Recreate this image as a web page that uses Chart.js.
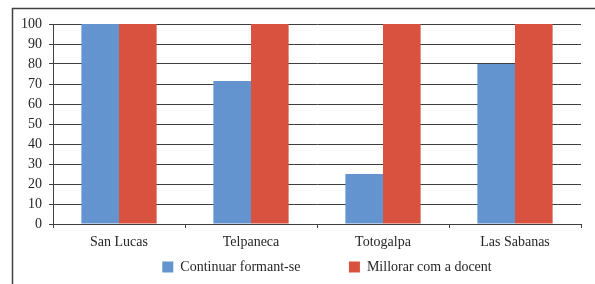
<!DOCTYPE html>
<html>
<head>
<meta charset="utf-8">
<script src="https://cdn.jsdelivr.net/npm/chart.js@4/dist/chart.umd.min.js"></script>
<style>
body { margin: 0; background: #fff; font-family: "Liberation Serif", serif; }
canvas { display: block; }
#warm { position: absolute; left: -999px; font: 14px "Liberation Serif"; }
</style>
</head>
<body>
<span id="warm">Continuar 0123456789</span>
<canvas id="chart" width="595" height="284"></canvas>
<script>
var municipalities = ["San Lucas", "Telpaneca", "Totogalpa", "Las Sabanas"];
var seriesNames = ["Continuar formant-se", "Millorar com a docent"];
var continueTraining = [100, 71.5, 25, 80];
var improveAsTeacher = [100, 100, 100, 100];
var yTicks = [0, 10, 20, 30, 40, 50, 60, 70, 80, 90, 100];

var textColor = "#262626";
var lineColor = "#404040";
var serif = { family: "Liberation Serif", size: 14 };

// the thin frame on the left and top of the figure
var framePlugin = {
    id: "frame",
    beforeDraw: function (chart) {
        var ctx = chart.ctx;
        ctx.save();
        ctx.fillStyle = "#fff";
        ctx.fillRect(0, 0, chart.width, chart.height);
        ctx.strokeStyle = lineColor;
        ctx.lineWidth = 1.5;
        ctx.beginPath();
        ctx.moveTo(12.5, chart.height);
        ctx.lineTo(12.5, 8.5);
        ctx.lineTo(chart.width, 8.5);
        ctx.stroke();
        ctx.restore();
    }
};

// legend sits a little right of the plot centre in the original
var legendShift = {
    id: "legendShift",
    afterLayout: function (chart) {
        chart.legend.left += 10;
        chart.legend.right += 10;
    }
};

function buildChart() {
    Chart.defaults.font.family = serif.family;
    new Chart(document.getElementById("chart"), {
        type: "bar",
        data: {
            labels: municipalities,
            datasets: [
                {
                    label: seriesNames[0],
                    data: continueTraining,
                    backgroundColor: "#6394CF",
                    borderWidth: 0
                },
                {
                    label: seriesNames[1],
                    data: improveAsTeacher,
                    backgroundColor: "#D9523F",
                    borderWidth: 0
                }
            ]
        },
        options: {
            responsive: false,
            animation: false,
            devicePixelRatio: 1,
            categoryPercentage: 0.57,
            barPercentage: 1,
            layout: {
                padding: { top: 24, right: 14, bottom: 0, left: 0 }
            },
            plugins: {
                tooltip: { enabled: false },
                legend: {
                    position: "bottom",
                    fullSize: false,
                    labels: {
                        boxWidth: 11,
                        boxHeight: 11,
                        padding: 10,
                        color: textColor,
                        font: serif,
                        generateLabels: function (chart) {
                            var items = Chart.defaults.plugins.legend.labels.generateLabels(chart);
                            // wider gap between the two entries
                            items[0].text = items[0].text + "           ";
                            return items;
                        }
                    }
                }
            },
            scales: {
                x: {
                    grid: {
                        offset: true,
                        drawOnChartArea: false,
                        drawTicks: true,
                        tickLength: 4,
                        color: lineColor
                    },
                    border: { color: lineColor },
                    ticks: {
                        color: textColor,
                        font: serif,
                        padding: 6,
                        maxRotation: 0,
                        autoSkip: false
                    },
                    afterFit: function (scale) {
                        scale.height = 26;
                    }
                },
                y: {
                    min: yTicks[0],
                    max: yTicks[yTicks.length - 1],
                    grid: {
                        color: lineColor,
                        tickLength: 4
                    },
                    border: { color: lineColor },
                    ticks: {
                        stepSize: yTicks[1] - yTicks[0],
                        color: textColor,
                        font: serif,
                        padding: 7
                    },
                    afterFit: function (scale) {
                        scale.width = 53;
                    }
                }
            }
        },
        plugins: [framePlugin, legendShift]
    });
}

if (document.fonts && document.fonts.load) {
    document.fonts.load("14px 'Liberation Serif'").then(buildChart, buildChart);
} else {
    buildChart();
}
</script>
</body>
</html>
